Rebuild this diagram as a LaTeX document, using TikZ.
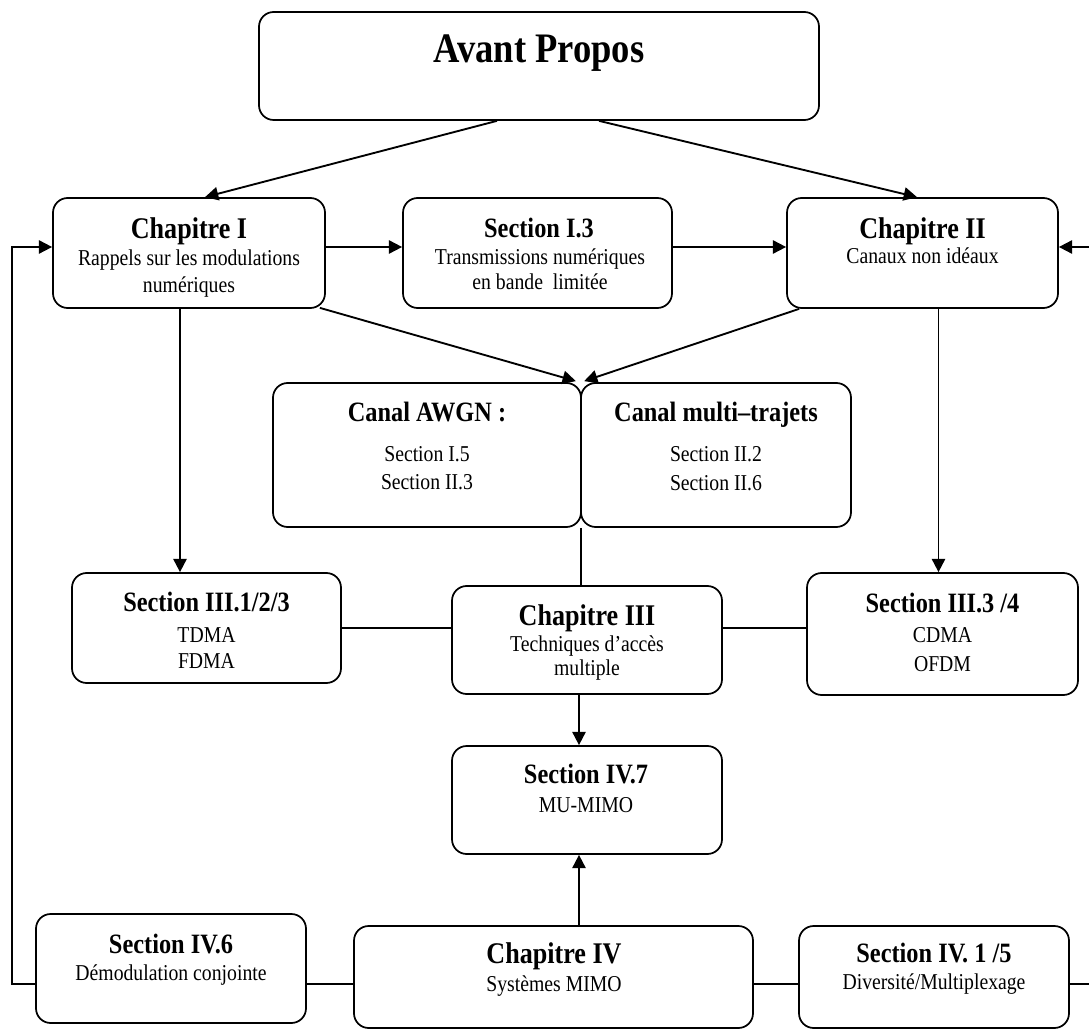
\documentclass[tikz,border=0pt]{standalone}
\usepackage{fontspec}
\setmainfont{Liberation Serif}[FakeStretch=0.87]
\usetikzlibrary{arrows.meta,calc}
\begin{document}
\begin{tikzpicture}[x=0.75pt,y=-0.75pt,
  box/.style={draw, rectangle, line width=1.3pt, rounded corners=11pt, inner sep=0pt},
  conn/.style={line width=1.4pt},
  arr/.style={conn, -{Triangle[length=10pt,width=10pt]}},
  ttl/.style={anchor=base, inner sep=0pt, font=\fontsize{31.5}{36}\selectfont\bfseries},
  chd/.style={anchor=base, inner sep=0pt, font=\fontsize{22.5}{27}\selectfont\bfseries},
  shd/.style={anchor=base, inner sep=0pt, font=\fontsize{21}{25}\selectfont\bfseries},
  sm/.style={anchor=base, inner sep=0pt, font=\fontsize{17}{20}\selectfont}]
\useasboundingbox (0,0) rectangle (1089,1030);
\clip (0,0) rectangle (1089,1030);

% boxes
\node[box, minimum width=420pt, minimum height=81pt] (av) at (539,66) {};
\node[box, minimum width=204pt, minimum height=82.5pt] (ch1) at (189,253) {};
\node[box, minimum width=201.75pt, minimum height=82.5pt] (s13) at (537.5,253) {};
\node[box, minimum width=203.25pt, minimum height=82.5pt] (ch2) at (922.5,253) {};
\node[box, minimum width=231pt, minimum height=108pt] (awgn) at (427,455) {};
\node[box, minimum width=202.5pt, minimum height=108pt] (multi) at (716,455) {};
\node[box, minimum width=201.75pt, minimum height=82.5pt] (s3a) at (206.5,628) {};
\node[box, minimum width=202.5pt, minimum height=81pt] (ch3) at (587,640) {};
\node[box, minimum width=203.25pt, minimum height=91.5pt] (s3b) at (942.5,634) {};
\node[box, minimum width=202.5pt, minimum height=81pt] (s47) at (587,800) {};
\node[box, minimum width=202.5pt, minimum height=81.75pt] (s46) at (171,968.5) {};
\node[box, minimum width=299.25pt, minimum height=76.5pt] (ch4) at (553.5,977) {};
\node[box, minimum width=202.5pt, minimum height=76.5pt] (s415) at (934,977) {};

% texts
\node[ttl] (avT) at (539,63) {Avant Propos};
\node[chd] (ch1T) at (189,239) {Chapitre I};
\node[sm] (ch1a) at (189,266) {Rappels sur les modulations};
\node[sm] (ch1b) at (189,293) {numériques};
\node[shd] (s13T) at (539,238) {Section I.3};
\node[sm] (s13a) at (540,265) {Transmissions numériques};
\node[sm] (s13b) at (540,290) {en bande\ \ limitée};
\node[chd] (ch2T) at (922.5,239) {Chapitre II};
\node[sm] (ch2a) at (922.5,264) {Canaux non idéaux};
\node[shd] (awgnT) at (427,422) {Canal AWGN :};
\node[sm] (awgna) at (427,462) {Section I.5};
\node[sm] (awgnb) at (427,489) {Section II.3};
\node[shd] (multiT) at (716,422) {Canal multi–trajets};
\node[sm] (multia) at (716,462) {Section II.2};
\node[sm] (multib) at (716,490) {Section II.6};
\node[shd] (s3aT) at (206.5,611) {Section III.1/2/3};
\node[sm] (s3aa) at (206.5,642) {TDMA};
\node[sm] (s3ab) at (206.5,668) {FDMA};
\node[chd] (ch3T) at (587,625) {Chapitre III};
\node[sm] (ch3a) at (587,651) {Techniques d’accès};
\node[sm] (ch3b) at (587,675) {multiple};
\node[shd] (s3bT) at (942.5,612) {Section III.3 /4};
\node[sm] (s3ba) at (942.5,642) {CDMA};
\node[sm] (s3bb) at (942.5,671) {OFDM};
\node[shd] (s47T) at (586,783) {Section IV.7};
\node[sm] (s47a) at (586,812) {MU-MIMO};
\node[shd] (s46T) at (171,953) {Section IV.6};
\node[sm] (s46a) at (171,980) {Démodulation conjointe};
\node[chd] (ch4T) at (554,963) {Chapitre IV};
\node[sm] (ch4a) at (554,991) {Systèmes MIMO};
\node[shd] (s415T) at (934,962) {Section IV. 1 /5};
\node[sm] (s415a) at (934,989) {Diversité/Multiplexage};

% connectors
\draw[arr] ($(av.south)+(-42,0)$) -- ($(ch1.north)+(16,0)$);
\draw[arr] ($(av.south)+(60,0)$) -- ($(ch2.north)+(-5.5,0)$);
\draw[arr] ($(ch1.east)+(0,-6)$) -- ($(s13.west)+(0,-6)$);
\draw[arr] ($(s13.east)+(0,-6)$) -- ($(ch2.west)+(0,-6)$);
\draw[arr] ($(ch1.south east)+(-6,-1)$) -- ($(awgn.north east)+(-6,-1)$);
\draw[arr] ($(ch2.south west)+(13,0)$) -- ($(multi.north west)+(4,-1)$);

\coordinate (p1) at ($(ch1.south)+(-9,0)$);
\draw[arr] (p1) -- (p1 |- s3a.north);
\coordinate (p2) at ($(ch2.south)+(16,0)$);
\draw[arr] (p2) -- (p2 |- s3b.north);
\coordinate (p3) at ($(awgn.south east)+(-1,0)$);
\draw[conn] (p3) -- (p3 |- ch3.north);
\draw[conn] (s3a.east) -- (s3a.east -| ch3.west);
\draw[conn] (ch3.east |- s3a.east) -- (s3b.west |- s3a.east);
\coordinate (p4) at ($(ch3.south)+(-8,0)$);
\draw[arr] (p4) -- (p4 |- s47.north);
\coordinate (p5) at ($(ch4.north)+(25.5,0)$);
\draw[arr] (p5) -- (p5 |- s47.south);

\coordinate (lb) at (12,984);
\coordinate (lt) at (12,247);
\coordinate (rb) at (1092,984);
\coordinate (rt) at (1092,247);
\draw[conn] (s46.east |- lb) -- (ch4.west |- lb);
\draw[conn] (ch4.east |- lb) -- (s415.west |- lb);
\draw[conn] (s415.east |- lb) -- (rb);
\draw[arr] (s46.west |- lb) -- (lb) -- (lt) -- (lt -| ch1.west);
\draw[arr] (rt) -- (rt -| ch2.east);
\end{tikzpicture}
\end{document}
